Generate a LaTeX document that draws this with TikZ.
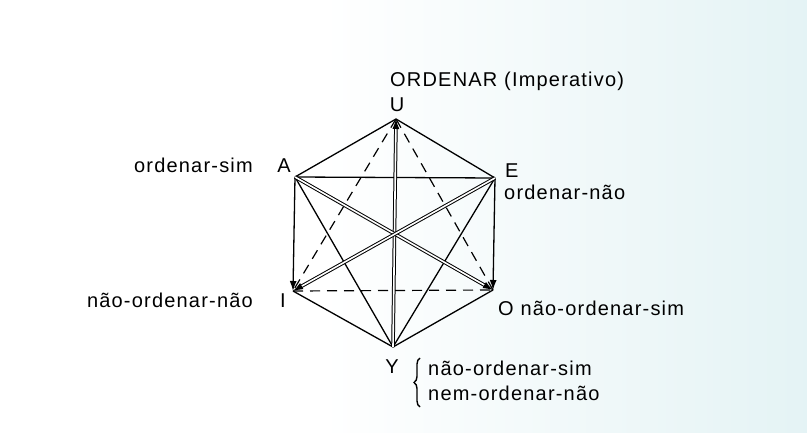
\documentclass[tikz,border=0pt]{standalone}
\usepackage{fontspec}
\setmainfont{Liberation Sans}[LetterSpace=6]
\usetikzlibrary{arrows.meta,decorations.pathreplacing}
\definecolor{scanbg}{RGB}{206,233,236}
\pgfdeclarehorizontalshading{scanfade}{100bp}{color(0bp)=(white); color(45bp)=(white); color(100bp)=(scanbg)}

\begin{document}
\begin{tikzpicture}[
  x=1pt, y=-1pt,
  font=\fontsize{20}{24}\selectfont,
  >={Latex[length=10pt,width=7pt]},
  lbl/.style={inner sep=0pt},
  side/.style={line width=1.3pt},
  contra/.style={double, double distance=1.6pt, line width=1pt},
  weak/.style={line width=1.2pt, dash pattern=on 10pt off 7pt}
]
\useasboundingbox (0,0) rectangle (807,433);
\shade[shading=scanfade] (0,0) rectangle (807,433);

% vertices of the hexagon
\coordinate (U) at (396,119);
\coordinate (A) at (295,177);
\coordinate (E) at (495,178);
\coordinate (I) at (293,291);
\coordinate (O) at (493,290);
\coordinate (Y) at (393,347);

% labels
\node[lbl, anchor=base west] (title) at (390,87) {ORDENAR (Imperativo)};
\node[lbl, anchor=base] (lU) at (397,112) {U};
\node[lbl, anchor=base] (lA) at (284,173) {A};
\node[lbl, anchor=base east] (tA) at (253,173) {ordenar-sim};
\node[lbl, anchor=base west] (lE) at (505,178) {E};
\node[lbl, anchor=base west] (tE) at (504,200) {ordenar-não};
\node[lbl, anchor=base] (lI) at (283,307) {I};
\node[lbl, anchor=base east] (tI) at (253,307) {não-ordenar-não};
\node[lbl, anchor=base west] (tO) at (498,316) {O não-ordenar-sim};
\node[lbl, anchor=base] (lY) at (392,373) {Y};
\node[lbl, anchor=base west] (tY1) at (428,375) {não-ordenar-sim};
\node[lbl, anchor=base west] (tY2) at (428,400) {nem-ordenar-não};
\draw[line width=1.4pt, decorate, decoration={brace, amplitude=6pt}] (420,407) -- (420,358);

% sides
\draw[side] (U) -- (A);
\draw[side] (U) -- (E);
\draw[side] (A) -- (E);
\draw[side, ->] (A) -- (I);
\draw[side, ->] (E) -- (O);
\draw[side] (I) -- (Y);
\draw[side] (O) -- (Y);
\draw[side] (A) -- (Y);
\draw[side] (E) -- (Y);

% contradictories
\draw[contra, ->] (Y) -- (U);
\draw[contra, ->] (A) -- (O);
\draw[contra, ->] (E) -- (I);

% subcontraries
\draw[weak] (U) -- (I);
\draw[weak] (U) -- (O);
\draw[weak] (I) -- (O);
\end{tikzpicture}
\end{document}
